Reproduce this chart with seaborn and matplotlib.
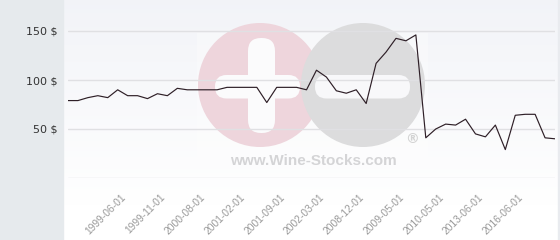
import numpy as np
import pandas as pd
import matplotlib
matplotlib.use("Agg")
import matplotlib.pyplot as plt
from matplotlib.patches import Circle, FancyBboxPatch, Rectangle
import seaborn as sns

# ---- data ----
prices = [79, 79, 82, 84, 82, 90, 84, 84, 81, 86,
          84, 91.5, 90, 90, 90, 90, 92.5, 92.5, 92.5, 92.5,
          77, 92.5, 92.5, 92.5, 90, 110, 103, 89, 86.5, 90,
          76, 117, 128.5, 142.5, 140, 146, 41, 50, 55, 54,
          60, 45, 42, 54, 29, 64, 65, 65, 41, 40]
tick_labels = ["1999-06-01", "1999-11-01", "2000-08-01", "2001-02-01",
               "2001-09-01", "2002-03-01", "2008-12-01", "2009-05-01",
               "2010-05-01", "2013-06-01", "2016-06-01"]
y_ticks = [50, 100, 150]
y_tick_labels = ["50 $", "100 $", "150 $"]

df = pd.DataFrame({"i": np.arange(len(prices)), "price": prices})

sns.set_style("white")
plt.rcParams["font.family"] = ["DejaVu Sans"]

W, H = 560, 240
fig = plt.figure(figsize=(W / 100, H / 100), dpi=100)
fig.patch.set_facecolor("white")

# background layer in pixel coordinates
bg = fig.add_axes([0, 0, 1, 1], zorder=0)
bg.set_xlim(0, W)
bg.set_ylim(H, 0)
bg.axis("off")
top = np.array([0.950, 0.955, 0.972])
bot = np.array([1.0, 1.0, 1.0])
t = np.clip(np.linspace(0, 1, H) / (205 / H), 0, 1)[:, None]
grad = (top * (1 - t) + bot * t)[:, None, :]
grad = np.repeat(grad, 2, axis=1)
bg.imshow(grad, extent=[0, W, H, 0], aspect="auto", zorder=0)
bg.add_patch(Rectangle((0, 0), 63, H, color="#e6eaed", zorder=1))
bg.add_patch(Rectangle((558, 0), 2, H, color="#e9ebef", zorder=1))

# watermark
bg.add_patch(Rectangle((197, 33), 231, 142, color="white", alpha=0.3, zorder=1.5, lw=0))
bg.add_patch(Circle((260, 85), 62, color="#eed5dc", zorder=2, lw=0))
bg.add_patch(FancyBboxPatch((248 + 13, 38 + 13), 1, 95 - 26,
                            boxstyle="round,pad=13", color="#fbfbfc", zorder=2.1, lw=0))
bg.add_patch(FancyBboxPatch((215 + 11.5, 75 + 11.5), 85 - 23, 0.5,
                            boxstyle="round,pad=11.5", color="#fbfbfc", zorder=2.1, lw=0))
bg.add_patch(Circle((363, 85), 62, color="#dcdcdd", zorder=2.2, lw=0))
bg.add_patch(FancyBboxPatch((315 + 11.5, 75 + 11.5), 95 - 23, 0.5,
                            boxstyle="round,pad=11.5", color="#f8f8fa", zorder=2.3, lw=0))
bg.text(313, 161, "www.Wine-Stocks.com", ha="center", va="center",
        fontsize=11, fontweight="bold", color="#d4d4d6",
        family=["Liberation Sans", "DejaVu Sans"], zorder=2.4)
bg.text(412, 139, "\u00ae", ha="center", va="center", fontsize=10,
        color="#d3d3d3", fontweight="bold", zorder=2.4)

# main chart axes
ax = fig.add_axes([68 / W, (H - 178) / H, (555 - 68) / W, 178 / H], zorder=1)
ax.set_facecolor("none")
sns.lineplot(data=df, x="i", y="price", ax=ax, color="#2e1f27", linewidth=0.85, zorder=3)
ax.set_xlim(0, len(prices) - 1)
ax.set_ylim(0, 178 / 0.98)
for s in ax.spines.values():
    s.set_visible(False)
for v in [0] + y_ticks:
    ax.axhline(v, color="#e0e0e3", linewidth=1.0, zorder=1)
ax.set_yticks(y_ticks)
ax.set_yticklabels(y_tick_labels, fontsize=8, color="#333333")
ax.set_xticks(np.arange(6, len(prices), 4)[:len(tick_labels)])
ax.set_xticklabels(tick_labels, rotation=45, ha="right", va="top",
                   fontsize=7.4, color="#9a9a9a",
                   family=["Liberation Sans", "DejaVu Sans"])
ax.tick_params(axis="y", length=0, pad=7.5)
ax.tick_params(axis="x", length=0, pad=10)
ax.set_xlabel("")
ax.set_ylabel("")
ax.grid(False)

fig.savefig("out.png", dpi=100)
